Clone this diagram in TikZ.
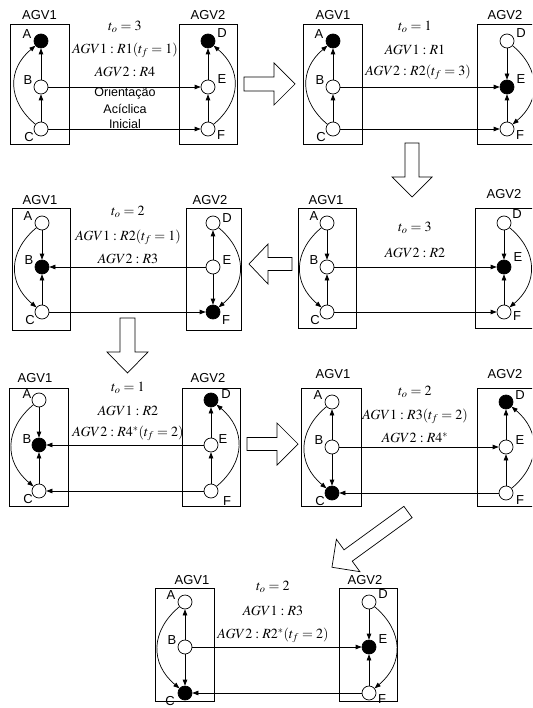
\documentclass[tikz,border=0pt]{standalone}
\usepackage{mathptmx}
\usepackage[no-math]{fontspec}
\setmainfont{Liberation Sans}
\usetikzlibrary{arrows.meta}
\tikzset{
  agv/.style={circle, draw, line width=0.7pt, minimum size=14pt, inner sep=0pt, fill=white},
  agvb/.style={agv, fill=black},
  box/.style={draw, line width=0.8pt},
  ttl/.style={font=\fontsize{13}{13}\selectfont, inner sep=0pt},
  lbl/.style={font=\fontsize{13}{13}\selectfont, inner sep=0pt},
  txt/.style={font=\fontsize{12.5}{12.5}\selectfont, inner sep=0pt},
  mth/.style={font=\fontsize{14}{14}\selectfont, inner sep=0pt},
  edge/.style={line width=0.7pt, -{Triangle[length=6pt,width=4.5pt]}},
  curvL/.style={bend left=50, looseness=1.2},
  curvR/.style={bend right=50, looseness=1.2},
  hollowarr/.style={draw, line width=0.7pt, fill=white, line join=miter},
}
\newcommand{\nd}[6]{\node[#2] (#1) at (#3,#4) {}; \node[lbl] (#1t) at ([shift={#6}]#1.center) {#5};}
\newcommand{\hollowarrow}[7]{%
  \draw[hollowarr, shift={(#1,#2)}, rotate=#3]
    (0,-#6) -- ({#4-#5},-#6) -- ({#4-#5},-#7) -- (#4,0) -- ({#4-#5},#7) -- ({#4-#5},#6) -- (0,#6) -- cycle;}
\begin{document}
\begin{tikzpicture}[x=1pt,y=-1pt]
\useasboundingbox (0,0) rectangle (532,708);
\clip (0,0) rectangle (532,708);
\fill[white] (0,0) rectangle (532,708);

% ---------- Panel 1
\draw[box] (10,24) rectangle (69,144);
\draw[box] (179,24) rectangle (237,144);
\node[ttl] (p1t1) at (39.5,15) {AGV1};
\node[ttl] (p1t2) at (208,15) {AGV2};
\nd{p1A}{agvb}{41}{41}{A}{(-14,-7)}
\nd{p1B}{agv}{41}{87}{B}{(-13,-7)}
\nd{p1C}{agv}{41}{129}{C}{(-12,8)}
\nd{p1D}{agvb}{208}{41}{D}{(14,-8)}
\nd{p1E}{agv}{208}{87}{E}{(14,-8)}
\nd{p1F}{agv}{208}{129}{F}{(13,6)}
\node[mth] (p1m1) at (125,27) {$t_o=3$};
\node[mth] (p1m2) at (125,50) {$AGV1:R1(t_f=1)$};
\node[mth] (p1m3) at (125,72) {$AGV2:R4$};
\node[txt] (p1o1) at (125,93) {Orientação};
\node[txt] (p1o2) at (125,109) {Acíclica};
\node[txt] (p1o3) at (125,124) {Inicial};
\draw[edge] (p1B) -- (p1A);
\draw[edge] (p1C) -- (p1B);
\draw[edge] (p1C) to[curvL] (p1A);
\draw[edge] (p1B) -- (p1E);
\draw[edge] (p1C) -- (p1F);
\draw[edge] (p1E) -- (p1D);
\draw[edge] (p1F) -- (p1E);
\draw[edge] (p1F) to[curvR] (p1D);

% ---------- Panel 2
\draw[box] (303,24) rectangle (362,144);
\draw[box] (477,24) rectangle (540,144);
\node[ttl] (p2t1) at (333,15) {AGV1};
\node[ttl] (p2t2) at (505,15) {AGV2};
\nd{p2A}{agvb}{333}{41}{A}{(-14,-7)}
\nd{p2B}{agv}{333}{87}{B}{(-13,-7)}
\nd{p2C}{agv}{333}{129}{C}{(-12,8)}
\nd{p2D}{agv}{507}{41}{D}{(14,-8)}
\nd{p2E}{agvb}{507}{87}{E}{(14,-8)}
\nd{p2F}{agv}{507}{129}{F}{(13,6)}
\node[mth] (p2m1) at (415,27) {$t_o=1$};
\node[mth] (p2m2) at (415,50) {$AGV1:R1$};
\node[mth] (p2m3) at (418,72) {$AGV2:R2(t_f=3)$};
\draw[edge] (p2B) -- (p2A);
\draw[edge] (p2C) -- (p2B);
\draw[edge] (p2C) to[curvL] (p2A);
\draw[edge] (p2B) -- (p2E);
\draw[edge] (p2C) -- (p2F);
\draw[edge] (p2D) -- (p2E);
\draw[edge] (p2F) -- (p2E);
\draw[edge] (p2D) to[curvL] (p2F);

% ---------- Panel 3
\draw[box] (12,208) rectangle (70,330);
\draw[box] (186,208) rectangle (241,330);
\node[ttl] (p3t1) at (40,200) {AGV1};
\node[ttl] (p3t2) at (210,200) {AGV2};
\nd{p3A}{agv}{42}{223}{A}{(-14,-7)}
\nd{p3B}{agvb}{42}{267}{B}{(-13,-7)}
\nd{p3C}{agv}{42}{312}{C}{(-12,8)}
\nd{p3D}{agv}{213}{223}{D}{(14,-5)}
\nd{p3E}{agv}{213}{267}{E}{(14,-7)}
\nd{p3F}{agvb}{213}{312}{F}{(13,8)}
\node[mth] (p3m1) at (128,212) {$t_o=2$};
\node[mth] (p3m2) at (128,237) {$AGV1:R2(t_f=1)$};
\node[mth] (p3m3) at (128,259) {$AGV2:R3$};
\draw[edge] (p3A) -- (p3B);
\draw[edge] (p3C) -- (p3B);
\draw[edge] (p3A) to[curvR] (p3C);
\draw[edge] (p3E) -- (p3B);
\draw[edge] (p3C) -- (p3F);
\draw[edge] (p3E) -- (p3D);
\draw[edge] (p3E) -- (p3F);
\draw[edge] (p3D) to[curvL] (p3F);

% ---------- Panel 4
\draw[box] (298,208) rectangle (356,328);
\draw[box] (475,208) rectangle (540,328);
\node[ttl] (p4t1) at (326,200) {AGV1};
\node[ttl] (p4t2) at (504,194) {AGV2};
\nd{p4A}{agv}{327}{223}{A}{(-13,-7)}
\nd{p4B}{agv}{327}{267}{B}{(-13,-7)}
\nd{p4C}{agv}{327}{312}{C}{(-12,8)}
\nd{p4D}{agv}{504}{223}{D}{(13,-9)}
\nd{p4E}{agvb}{504}{267}{E}{(14,-10)}
\nd{p4F}{agv}{504}{312}{F}{(13,4)}
\node[mth] (p4m1) at (415,228) {$t_o=3$};
\node[mth] (p4m2) at (415,253) {$AGV2:R2$};
\draw[edge] (p4A) -- (p4B);
\draw[edge] (p4C) -- (p4B);
\draw[edge] (p4A) to[curvR] (p4C);
\draw[edge] (p4B) -- (p4E);
\draw[edge] (p4C) -- (p4F);
\draw[edge] (p4D) -- (p4E);
\draw[edge] (p4F) -- (p4E);
\draw[edge] (p4D) to[curvL] (p4F);

% ---------- Panel 5
\draw[box] (9,388) rectangle (68,506);
\draw[box] (182,388) rectangle (240,506);
\node[ttl] (p5t1) at (35,378) {AGV1};
\node[ttl] (p5t2) at (208,378) {AGV2};
\nd{p5A}{agv}{39}{400}{A}{(-12,-6)}
\nd{p5B}{agvb}{39}{445}{B}{(-12,-6)}
\nd{p5C}{agv}{39}{491}{C}{(-11,8)}
\nd{p5D}{agvb}{211}{400}{D}{(15,-6)}
\nd{p5E}{agv}{211}{445}{E}{(12,-6)}
\nd{p5F}{agv}{211}{491}{F}{(16,10)}
\node[mth] (p5m1) at (128,388) {$t_o=1$};
\node[mth] (p5m2) at (128,411) {$AGV1:R2$};
\node[mth] (p5m3) at (128,433) {$AGV2:R4^{*}(t_f=2)$};
\draw[edge] (p5A) -- (p5B);
\draw[edge] (p5C) -- (p5B);
\draw[edge] (p5A) to[curvR] (p5C);
\draw[edge] (p5E) -- (p5B);
\draw[edge] (p5F) -- (p5C);
\draw[edge] (p5E) -- (p5D);
\draw[edge] (p5F) -- (p5E);
\draw[edge] (p5F) to[curvR] (p5D);

% ---------- Panel 6
\draw[box] (301,388) rectangle (361,506);
\draw[box] (477,388) rectangle (540,506);
\node[ttl] (p6t1) at (333,374) {AGV1};
\node[ttl] (p6t2) at (505,374) {AGV2};
\nd{p6A}{agv}{332}{402}{A}{(-14,-7)}
\nd{p6B}{agv}{332}{447}{B}{(-13,-7)}
\nd{p6C}{agvb}{332}{493}{C}{(-12,8)}
\nd{p6D}{agvb}{506}{402}{D}{(14,-7)}
\nd{p6E}{agv}{506}{447}{E}{(14,-7)}
\nd{p6F}{agv}{506}{493}{F}{(14,7)}
\node[mth] (p6m1) at (415,392) {$t_o=2$};
\node[mth] (p6m2) at (415,416) {$AGV1:R3(t_f=2)$};
\node[mth] (p6m3) at (415,438) {$AGV2:R4^{*}$};
\draw[edge] (p6B) -- (p6A);
\draw[edge] (p6B) -- (p6C);
\draw[edge] (p6A) to[curvR] (p6C);
\draw[edge] (p6B) -- (p6E);
\draw[edge] (p6F) -- (p6C);
\draw[edge] (p6E) -- (p6D);
\draw[edge] (p6F) -- (p6E);
\draw[edge] (p6F) to[curvR] (p6D);

% ---------- Panel 7
\draw[box] (155,588) rectangle (214,701);
\draw[box] (339,588) rectangle (397,701);
\node[ttl] (p7t1) at (192,580) {AGV1};
\node[ttl] (p7t2) at (365,580) {AGV2};
\nd{p7A}{agv}{185}{602}{A}{(-14,-7)}
\nd{p7B}{agv}{185}{647}{B}{(-13,-7)}
\nd{p7C}{agvb}{185}{693}{C}{(-15,8)}
\nd{p7D}{agv}{369}{602}{D}{(14,-8)}
\nd{p7E}{agvb}{369}{647}{E}{(14,-8)}
\nd{p7F}{agv}{369}{693}{F}{(13,6)}
\node[mth] (p7m1) at (273,587) {$t_o=2$};
\node[mth] (p7m2) at (273,611) {$AGV1:R3$};
\node[mth] (p7m3) at (273,635) {$AGV2:R2^{*}(t_f=2)$};
\draw[edge] (p7B) -- (p7A);
\draw[edge] (p7B) -- (p7C);
\draw[edge] (p7A) to[curvR] (p7C);
\draw[edge] (p7B) -- (p7E);
\draw[edge] (p7F) -- (p7C);
\draw[edge] (p7D) -- (p7E);
\draw[edge] (p7F) -- (p7E);
\draw[edge] (p7D) to[curvL] (p7F);

% ---------- hollow transition arrows
\hollowarrow{244}{84}{0}{51}{21}{7}{21}
\hollowarrow{412}{143}{-90}{54}{20}{7}{20}
\hollowarrow{292}{264}{180}{43}{19}{6.5}{20}
\hollowarrow{127.5}{318}{-90}{55}{21}{7.5}{20.5}
\hollowarrow{247}{444}{0}{51}{21}{6.5}{21}
\hollowarrow{408}{512}{-144}{94}{20}{7}{20}
\end{tikzpicture}
\end{document}
